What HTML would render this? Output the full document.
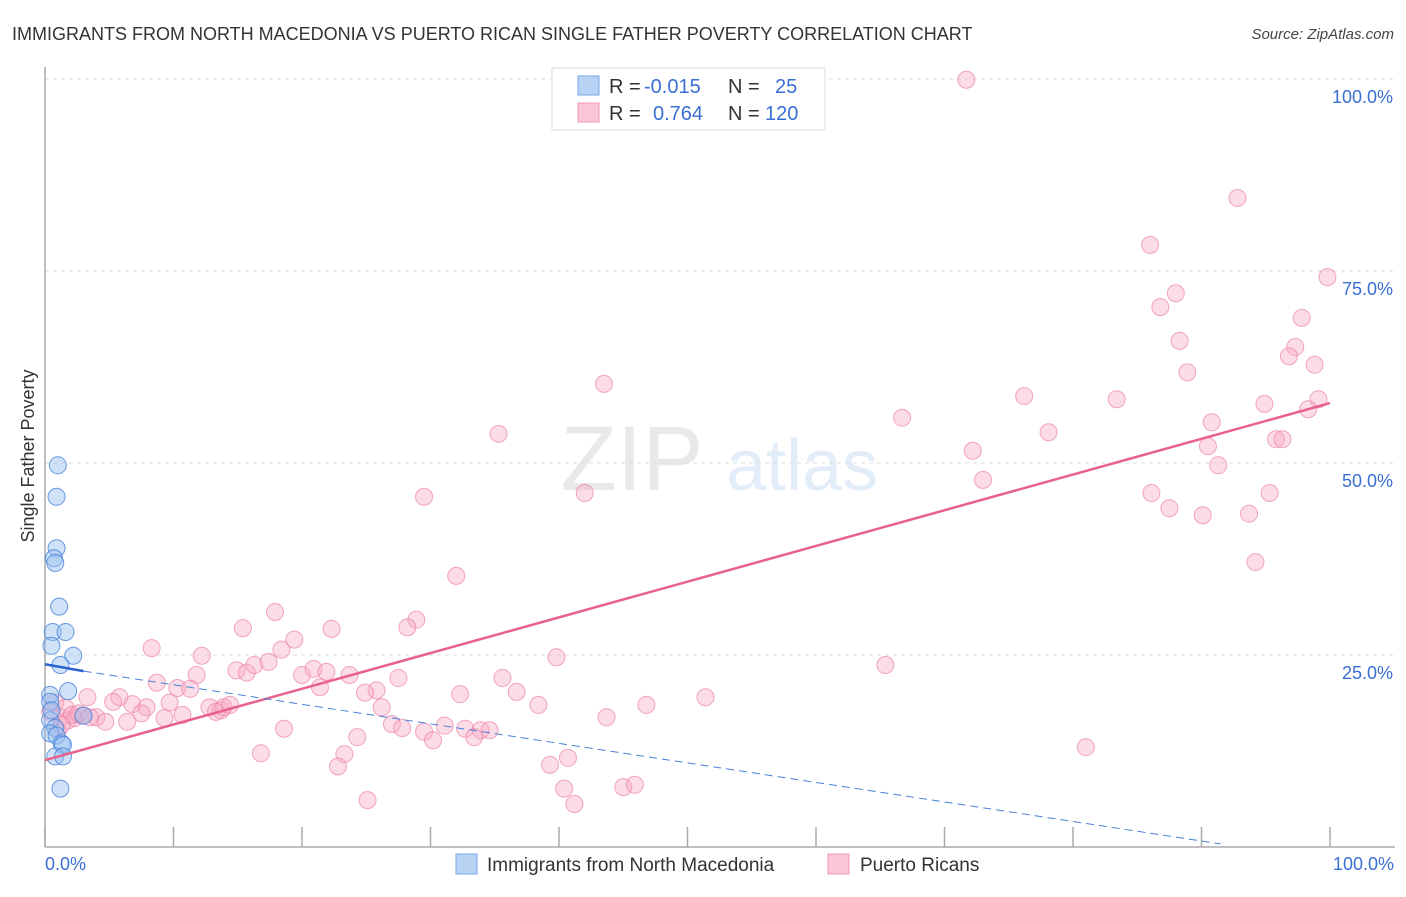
<!DOCTYPE html>
<html><head><meta charset="utf-8"><style>
body{margin:0;background:#fff;font-family:"Liberation Sans",sans-serif}
svg text{font-family:"Liberation Sans",sans-serif}
</style></head><body>
<svg id="chart" width="1406" height="892" xmlns="http://www.w3.org/2000/svg">
<text x="12" y="40" font-size="18" fill="#333">IMMIGRANTS FROM NORTH MACEDONIA VS PUERTO RICAN SINGLE FATHER POVERTY CORRELATION CHART</text>
<text x="1394" y="39" font-size="15" fill="#444" text-anchor="end" font-style="italic">Source: ZipAtlas.com</text>
<g opacity="0.18">
<text x="632" y="490" font-size="92" fill="#888" text-anchor="middle" font-family="Liberation Serif">ZIP</text>
<text x="802" y="490" font-size="72" fill="#6b9be0" text-anchor="middle">atlas</text>
</g>
<g id="grid"></g>
<line x1="45" y1="67" x2="45" y2="847" stroke="#aaa" stroke-width="1.5"/>
<line x1="45" y1="847" x2="1395" y2="847" stroke="#aaa" stroke-width="1.5"/>
<g id="ticks"></g>
<text transform="translate(34,456) rotate(-90)" font-size="18" fill="#333" text-anchor="middle">Single Father Poverty</text>
<text x="45" y="870" font-size="18" fill="#3a6fd4">0.0%</text>
<text x="1394" y="870" font-size="18" fill="#3a6fd4" text-anchor="end">100.0%</text>
<g id="marks"></g>
<g id="lines"></g>
<g>
<rect x="552" y="68" width="273" height="62" fill="#fff" stroke="#ddd"/>
<rect x="578" y="76" width="21" height="19" fill="#b9d3f5" stroke="#7aa6e6"/>
<rect x="578" y="103" width="21" height="19" fill="#fcc6d6" stroke="#ef9ab6"/>
<text x="609" y="93" font-size="20" fill="#333">R = </text><text x="644" y="93" font-size="20" fill="#3a6fd4">-0.015</text>
<text x="728" y="93" font-size="20" fill="#333">N = </text><text x="775" y="93" font-size="20" fill="#3a6fd4">25</text>
<text x="609" y="120" font-size="20" fill="#333">R = </text><text x="653" y="120" font-size="20" fill="#3a6fd4">0.764</text>
<text x="728" y="120" font-size="20" fill="#333">N = </text><text x="765" y="120" font-size="20" fill="#3a6fd4">120</text>
</g>
<g>
<rect x="456" y="854" width="21" height="20" fill="#b9d3f5" stroke="#7aa6e6"/>
<text x="487" y="871" font-size="19" fill="#333">Immigrants from North Macedonia</text>
<rect x="828" y="854" width="21" height="20" fill="#fcc6d6" stroke="#ef9ab6"/>
<text x="860" y="871" font-size="19" fill="#333">Puerto Ricans</text>
</g>
</svg>
<script>
const yTicks=[25,50,75,100];
const yTickLabels=["25.0%","50.0%","75.0%","100.0%"];
const xTicks=[0,10,20,30,40,50,60,70,80,90,100];
const blueX=[1.0,0.9,0.9,0.7,0.8,1.1,0.6,1.6,2.2,0.5,1.2,1.8,0.4,0.4,3.0,0.4,0.8,0.4,0.9,1.3,1.4,0.8,1.4,1.2,0.5];
const blueY=[49.7,45.6,38.9,37.6,37.0,31.3,28.0,28.0,24.9,26.2,23.7,20.3,19.8,18.9,17.1,16.5,15.5,14.8,14.5,13.5,13.3,11.8,11.8,7.6,17.8];
const pinkX=[71.7,92.8,86.0,99.8,88.0,86.8,97.8,88.3,97.3,96.8,98.8,88.9,43.5,76.2,83.4,99.1,94.9,98.3,66.7,90.8,78.1,35.3,95.8,96.3,90.5,72.2,91.3,73.0,42.0,29.5,86.1,95.3,87.5,90.1,93.7,32.0,94.2,17.9,28.9,28.2,22.3,15.4,19.4,8.3,39.8,12.2,65.4,18.4,14.9,15.7,16.3,17.4,20.0,20.9,21.9,23.7,11.8,8.7,10.3,11.3,21.4,25.8,24.9,27.5,35.6,32.3,36.7,3.3,5.8,5.3,6.8,7.9,9.7,12.8,13.7,13.9,13.3,10.7,14.4,26.2,38.4,46.8,51.4,7.5,9.3,4.0,4.7,6.4,43.7,27.0,27.8,31.1,18.6,29.5,32.7,33.9,34.6,33.4,30.2,24.3,23.3,16.8,81.0,22.8,39.3,40.7,40.4,45.0,45.9,41.2,25.1,1.2,1.8,2.3,2.9,0.8,1.6,1.0,2.1,1.3,0.4,2.6,3.5];
const pinkY=[99.9,84.5,78.4,74.2,72.1,70.3,68.9,65.9,65.1,63.9,62.8,61.8,60.3,58.7,58.3,58.3,57.7,57.0,55.9,55.3,54.0,53.8,53.1,53.1,52.2,51.6,49.7,47.8,46.1,45.6,46.1,46.1,44.1,43.2,43.4,35.3,37.1,30.6,29.6,28.6,28.4,28.5,27.0,25.9,24.7,24.9,23.7,25.7,23.0,22.7,23.7,24.1,22.4,23.2,22.8,22.4,22.4,21.4,20.7,20.6,20.8,20.4,20.1,22.0,22.0,19.9,20.2,19.5,19.5,18.9,18.6,18.2,18.8,18.2,17.8,18.2,17.6,17.2,18.5,18.2,18.5,18.5,19.5,17.4,16.8,16.9,16.3,16.3,16.9,16.0,15.5,15.8,15.4,15.0,15.4,15.2,15.2,14.3,13.9,14.3,12.1,12.2,13.0,10.5,10.7,11.6,7.6,7.8,8.1,5.6,6.1,16.9,16.5,16.8,17.1,18.8,18.1,15.2,17.2,15.9,17.6,17.4,16.9];
const pinkTrendX=[0,100];
const pinkTrendY=[11.3,57.8];
const blueTrendX=[0,3,91.5];
const blueTrendY=[23.8,22.9,0.4];
const NS="http://www.w3.org/2000/svg";
function sx(v){return 45+v*12.85;}
function sy(v){return 847-v*7.68;}
function mk(t,a,p){const e=document.createElementNS(NS,t);for(const k in a)e.setAttribute(k,a[k]);p.appendChild(e);return e;}
const grid=document.getElementById('grid'),ticks=document.getElementById('ticks'),marks=document.getElementById('marks'),lines=document.getElementById('lines');
yTicks.forEach((v,i)=>{
 const g=mk('line',{x1:45,x2:1395,y1:sy(v),y2:sy(v),stroke:'#ddd','stroke-dasharray':'4,4'},grid);
 
 
 const t=mk('text',{x:1393,y:sy(v)+24,'font-size':18,fill:'#3a6fd4','text-anchor':'end'},ticks);
 t.textContent=yTickLabels[i];
 
 
});
xTicks.forEach(v=>{
 const l=mk('line',{x1:sx(v),x2:sx(v),y1:827,y2:847,stroke:'#aaa','stroke-width':1.5},ticks);
 
 
});
pinkX.forEach((x,i)=>{
 const c=mk('circle',{cx:sx(x),cy:sy(pinkY[i]),r:8.5,fill:'rgba(248,170,195,0.4)',stroke:'rgba(236,130,165,0.7)','stroke-width':1},marks);
 
 
});
blueX.forEach((x,i)=>{
 const c=mk('circle',{cx:sx(x),cy:sy(blueY[i]),r:8.5,fill:'rgba(150,190,240,0.45)',stroke:'rgba(70,130,220,0.8)','stroke-width':1},marks);
 
 
});
const pl=mk('line',{x1:sx(pinkTrendX[0]),y1:sy(pinkTrendY[0]),x2:sx(pinkTrendX[1]),y2:sy(pinkTrendY[1]),stroke:'#e8608c','stroke-width':2.5},lines);


const bl=mk('line',{x1:sx(blueTrendX[0]),y1:sy(blueTrendY[0]),x2:sx(blueTrendX[1]),y2:sy(blueTrendY[1]),stroke:'#2a64cc','stroke-width':2.5},lines);


const bd=mk('line',{x1:sx(blueTrendX[1]),y1:sy(blueTrendY[1]),x2:sx(blueTrendX[2]),y2:sy(blueTrendY[2]),stroke:'#4a80d8','stroke-width':1,'stroke-dasharray':'8,5'},lines);


</script>
</body></html>
